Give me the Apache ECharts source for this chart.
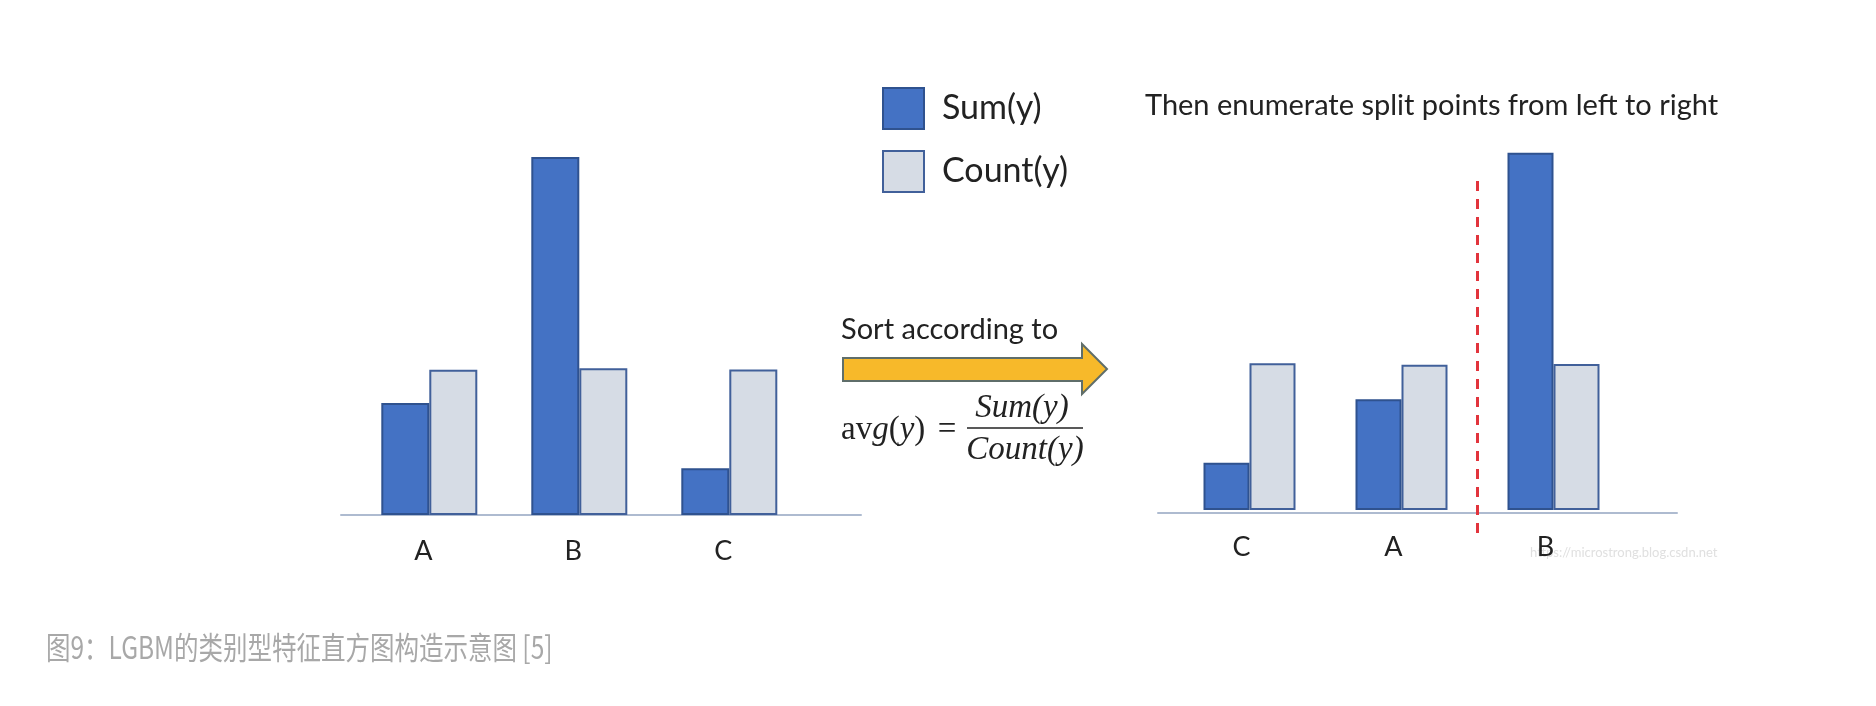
<!DOCTYPE html>
<html><head><meta charset="utf-8">
<script src="https://cdn.jsdelivr.net/npm/echarts@6/dist/echarts.min.js"></script>
<style>html,body{margin:0;padding:0;background:#fff}#c{width:1876px;height:706px}</style>
</head><body><div id="c"></div>
<script>
// ---- data ----
const categories = ['A', 'B', 'C'];
const sumValues = [2.8, 8.95, 1.17];
const countValues = [3.63, 3.67, 3.64];
const sortedCategories = ['C', 'A', 'B'];
const sortedSum = [1.18, 2.77, 8.93];
const sortedCount = [3.67, 3.63, 3.65];
const splitAfter = 2; // split point between 2nd and 3rd sorted category
const seriesNames = ['Sum(y)', 'Count(y)'];
const titleText = 'Then enumerate split points from left to right';
const sortText = 'Sort according to';
const captionText = '图9：LGBM的类别型特征直方图构造示意图 [5]';
const watermarkText = 'https://microstrong.blog.csdn.net';

// ---- styles ----
const SANS = 'Lato, "Open Sans", sans-serif';
const SERIF = '"Liberation Serif", "DejaVu Serif", serif';
const sumStyle = { color: '#4472C4', borderColor: '#2F528F', borderWidth: 2 };
const countStyle = { color: '#D6DCE5', borderColor: '#41609A', borderWidth: 2 };
const baseLine = { show: true, lineStyle: { color: '#AEBBD0', width: 2 } };

const chart = echarts.init(document.getElementById('c'), null, { renderer: 'canvas' });

const catAxis = (gi, data, margin, shift) => ({
  type: 'category', gridIndex: gi, data: data,
  axisLine: { show: false }, axisTick: { show: false },
  axisLabel: { fontSize: 27, fontFamily: SANS, color: '#222', margin: margin,
               padding: [0, shift, 0, 0] }
});
const hiddenVal = (gi, min, max) => ({
  type: 'value', gridIndex: gi, min: min, max: max, show: false, splitLine: { show: false }
});
const lineAxis = (gi) => ({
  type: 'value', gridIndex: gi, min: 0, max: 1, axisLine: baseLine,
  axisLabel: { show: false }, axisTick: { show: false }, splitLine: { show: false }
});

chart.setOption({
  animation: false,
  backgroundColor: '#fff',
  grid: [
    { left: 354.3, width: 450, top: 115, height: 400 },
    { left: 1173.5, width: 456, top: 110, height: 400 },
    { left: 341, width: 520, top: 415, height: 100 },
    { left: 1158, width: 519, top: 413, height: 100 },
    { left: 1173.5, width: 456, top: 178, height: 355 }
  ],
  xAxis: [
    catAxis(0, categories, 22.5, 12),
    catAxis(1, sortedCategories, 24, 16),
    lineAxis(2),
    lineAxis(3),
    hiddenVal(4, 0, sortedCategories.length)
  ],
  yAxis: [
    hiddenVal(0, 0, 10),
    hiddenVal(1, 0, 10),
    hiddenVal(2, 0, 1),
    hiddenVal(3, 0, 1),
    hiddenVal(4, 0, 1)
  ],
  legend: {
    data: seriesNames, orient: 'vertical', left: 882, top: 87, padding: 0,
    icon: 'rect', itemWidth: 41, itemHeight: 41, itemGap: 20,
    textStyle: { fontSize: 34, fontFamily: SANS, color: '#222', padding: [0, 0, 0, 13] }
  },
  series: [
    { name: seriesNames[0], type: 'bar', xAxisIndex: 0, yAxisIndex: 0, data: sumValues,
      barWidth: 48, barGap: '0%', itemStyle: sumStyle },
    { name: seriesNames[1], type: 'bar', xAxisIndex: 0, yAxisIndex: 0, data: countValues,
      barWidth: 48, barGap: '0%', itemStyle: countStyle },
    { name: seriesNames[0], type: 'bar', xAxisIndex: 1, yAxisIndex: 1, data: sortedSum,
      barWidth: 46, barGap: '0%', itemStyle: sumStyle },
    { name: seriesNames[1], type: 'bar', xAxisIndex: 1, yAxisIndex: 1, data: sortedCount,
      barWidth: 46, barGap: '0%', itemStyle: countStyle },
    { name: 'split', type: 'line', xAxisIndex: 4, yAxisIndex: 4, silent: true,
      symbol: 'none', clip: false,
      data: [[splitAfter, 0], [splitAfter, 1]],
      lineStyle: { color: '#E2343C', width: 3, type: [10, 8] } }
  ],
  graphic: [
    { type: 'text', style: { x: 1145, y: 106, text: titleText, font: '29px ' + SANS,
        fill: '#222', align: 'left', verticalAlign: 'middle' } },
    { type: 'text', style: { x: 841, y: 330, text: sortText, font: '29px ' + SANS,
        fill: '#222', align: 'left', verticalAlign: 'middle' } },
    { type: 'polygon', shape: { points: [[843, 358], [1082, 358], [1082, 344], [1107, 369],
        [1082, 394], [1082, 381], [843, 381]] },
      style: { fill: '#F7B92A', stroke: '#5F6E6A', lineWidth: 2 } },
    { type: 'text', style: { x: 841, y: 430, text: '{r|av}{i|g}{r|(}{i|y}{r|)}',
        rich: { r: { font: '33px ' + SERIF, fill: '#222' },
                i: { font: 'italic 33px ' + SERIF, fill: '#222' } },
        align: 'left', verticalAlign: 'middle' } },
    { type: 'text', style: { x: 947, y: 430, text: '=', font: '33px ' + SERIF,
        fill: '#222', align: 'center', verticalAlign: 'middle' } },
    { type: 'text', style: { x: 1022, y: 408, text: 'Sum(y)', font: 'italic 33px ' + SERIF,
        fill: '#222', align: 'center', verticalAlign: 'middle' } },
    { type: 'line', shape: { x1: 967, y1: 428, x2: 1083, y2: 428 },
      style: { stroke: '#222', lineWidth: 1.5 } },
    { type: 'text', style: { x: 1025, y: 450, text: 'Count(y)', font: 'italic 33px ' + SERIF,
        fill: '#222', align: 'center', verticalAlign: 'middle' } },
    { type: 'text', z: -1, style: { x: 1530, y: 553, text: watermarkText, font: '13px ' + SANS,
        fill: '#E0E0E0', align: 'left', verticalAlign: 'middle' } },
    { type: 'text', x: 46, y: 647, scaleX: 0.79,
      style: { x: 0, y: 0, text: captionText,
        font: '31px "Noto Sans CJK SC", sans-serif', fill: '#A8A8A8',
        align: 'left', verticalAlign: 'middle' } }
  ]
});
</script>
</body></html>
